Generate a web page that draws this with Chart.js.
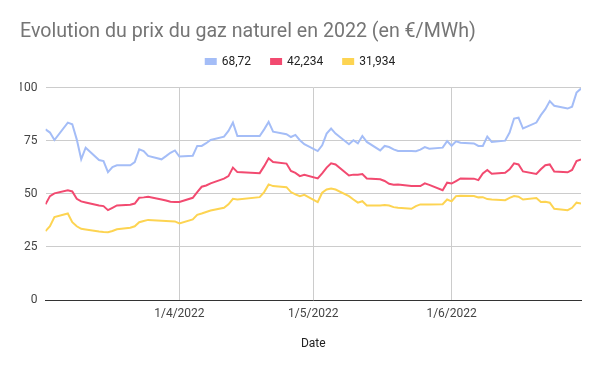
<!DOCTYPE html>
<html><head><meta charset="utf-8">
<script src="https://cdn.jsdelivr.net/npm/chart.js@4/dist/chart.umd.min.js"></script>
<style>html,body{margin:0;padding:0;background:#fff}</style>
</head><body>
<canvas id="c" width="600" height="371"></canvas>
<script>
const chartTitle = 'Evolution du prix du gaz naturel en 2022 (en €/MWh)';
const xAxisTitle = 'Date';
const seriesNames = ['68,72', '42,234', '31,934'];
const dates = [
 '2022-03-02','2022-03-03','2022-03-04','2022-03-07','2022-03-08','2022-03-09','2022-03-10','2022-03-11',
 '2022-03-14','2022-03-15','2022-03-16','2022-03-17','2022-03-18','2022-03-21','2022-03-22','2022-03-23',
 '2022-03-24','2022-03-25','2022-03-28','2022-03-29','2022-03-30','2022-03-31',
 '2022-04-01','2022-04-04','2022-04-05','2022-04-06','2022-04-07','2022-04-08','2022-04-11','2022-04-12',
 '2022-04-13','2022-04-14','2022-04-19','2022-04-20','2022-04-21','2022-04-22','2022-04-25','2022-04-26',
 '2022-04-27','2022-04-28','2022-04-29',
 '2022-05-02','2022-05-03','2022-05-04','2022-05-05','2022-05-06','2022-05-09','2022-05-10','2022-05-11',
 '2022-05-12','2022-05-13','2022-05-16','2022-05-17','2022-05-18','2022-05-19','2022-05-20','2022-05-23',
 '2022-05-24','2022-05-25','2022-05-26','2022-05-27','2022-05-30','2022-05-31',
 '2022-06-01','2022-06-02','2022-06-03','2022-06-06','2022-06-07','2022-06-08','2022-06-09','2022-06-10',
 '2022-06-13','2022-06-14','2022-06-15','2022-06-16','2022-06-17','2022-06-20','2022-06-21','2022-06-22',
 '2022-06-23','2022-06-24','2022-06-27','2022-06-28','2022-06-29','2022-06-30'
];
const seriesBlue = [
 80.3,78.8,75.3,83.5,82.7,75.6,66.2,71.7,65.9,65.4,60.2,62.6,63.4,63.4,64.9,70.9,70.1,67.8,66.2,67.7,69.3,70.4,
 67.5,67.9,72.5,72.5,73.8,75.3,76.9,79.6,83.5,77.2,77.2,80.3,83.8,79.2,78.0,76.7,77.7,75.2,73.3,
 70.1,72.8,78.3,80.7,78.3,73.3,75.2,73.7,77.2,74.4,70.4,72.5,72.0,70.9,70.1,70.1,70.0,70.8,72.0,71.2,71.7,74.8,
 72.6,74.7,74.0,73.7,72.5,72.5,76.9,74.4,75.0,78.8,85.4,85.8,80.7,83.5,87.0,89.8,93.6,91.4,90.1,91.0,97.6,99.5
];
const seriesRed = [
 45.0,48.9,50.2,51.6,51.1,47.6,46.4,45.9,44.5,44.2,42.3,43.4,44.5,44.8,45.4,48.1,48.3,48.6,47.3,46.8,46.2,46.1,
 46.1,48.1,50.8,53.3,53.9,54.9,57.1,58.3,62.3,60.2,59.7,63.0,66.7,64.9,64.2,60.7,59.8,58.3,58.9,
 57.2,59.6,62.3,64.3,63.8,58.6,59.0,59.0,59.3,57.2,56.8,56.0,54.7,54.2,54.4,53.6,53.6,53.6,54.9,54.2,51.7,55.2,
 54.8,56.0,57.2,57.1,56.4,59.6,61.2,59.4,59.9,61.5,64.3,63.8,60.5,59.3,61.5,63.4,63.8,60.5,60.1,61.2,65.4,66.2
];
const seriesYellow = [
 32.4,34.7,39.0,40.7,36.6,34.7,33.5,33.2,32.2,32.0,31.9,32.5,33.3,34.0,34.7,36.6,37.2,37.7,37.3,37.2,37.1,37.0,
 36.0,37.9,40.1,40.7,41.4,42.1,43.4,45.0,47.6,47.3,48.4,50.8,54.4,53.6,53.1,50.8,49.7,48.9,49.5,
 46.1,50.5,52.0,52.5,52.0,48.9,47.3,45.8,46.5,44.5,44.5,44.7,44.5,43.7,43.4,42.9,44.2,45.0,45.0,45.0,45.1,47.3,
 46.4,48.9,49.1,48.9,48.3,48.4,47.5,47.3,47.0,48.1,48.9,48.6,47.3,48.0,46.1,46.2,45.8,42.9,42.3,43.4,45.8,45.4
];
const xTickDates = ['2022-04-01', '2022-05-01', '2022-06-01'];
const xTickLabels = ['1/4/2022', '1/5/2022', '1/6/2022'];
const xRange = ['2022-03-02', '2022-06-30'];
const yTicks = [0, 25, 50, 75, 100];

function dayNum(s) {
  return (Date.UTC(+s.slice(0,4), +s.slice(5,7)-1, +s.slice(8,10)) - Date.UTC(2022,0,1)) / 86400000 + 1;
}
const toPoints = vals => vals.map((v, i) => ({x: dayNum(dates[i]), y: v}));
const xTickNums = xTickDates.map(dayNum);
const FONT = 'Roboto, "Liberation Sans", Arial, sans-serif';

new Chart(document.getElementById('c'), {
  type: 'line',
  data: {
    datasets: [
      {label: seriesNames[0], data: toPoints(seriesBlue), xAxisID: 'x', yAxisID: 'y', borderColor: '#a4bdf7', backgroundColor: '#a4bdf7'},
      {label: seriesNames[1], data: toPoints(seriesRed), xAxisID: 'x', yAxisID: 'y', borderColor: '#f24a70', backgroundColor: '#f24a70'},
      {label: seriesNames[2], data: toPoints(seriesYellow), xAxisID: 'x', yAxisID: 'y', borderColor: '#fdd452', backgroundColor: '#fdd452'}
    ]
  },
  options: {
    responsive: false,
    animation: false,
    devicePixelRatio: 1,
    elements: {line: {borderWidth: 2, tension: 0}, point: {radius: 0, hoverRadius: 0}},
    layout: {padding: {left: 20, right: 19, top: 0, bottom: 0}},
    plugins: {
      tooltip: {enabled: false},
      title: {
        display: true, text: chartTitle, align: 'start', color: '#757575',
        font: {family: FONT, size: 19.6, weight: 'normal'},
        padding: {top: 20, bottom: -8}
      },
      legend: {
        display: true, position: 'top', align: 'center',
        labels: {boxWidth: 10, boxHeight: 5, padding: 20, color: '#222',
                 font: {family: FONT, size: 12}}
      }
    },
    scales: {
      x: {
        type: 'linear', position: 'bottom',
        min: dayNum(xRange[0]), max: dayNum(xRange[1]),
        afterBuildTicks: s => { s.ticks = xTickNums.map(v => ({value: v})); },
        ticks: {
          callback: v => { const i = xTickNums.indexOf(v); return i >= 0 ? xTickLabels[i] : ''; },
          color: '#444', font: {family: FONT, size: 12}, padding: 7, maxRotation: 0, autoSkip: false
        },
        grid: {color: '#cccccc', lineWidth: 1, drawTicks: false},
        border: {display: true, color: '#333333', width: 1},
        title: {display: true, text: xAxisTitle, color: '#222', font: {family: FONT, size: 12}, padding: {top: 0, bottom: 20}},
        afterFit: s => { s.height = 71; }
      },
      y: {
        min: 0, max: 100,
        afterBuildTicks: s => { s.ticks = yTicks.map(v => ({value: v})); },
        ticks: {color: '#444', font: {family: FONT, size: 12}, padding: 8},
        grid: {color: ctx => (ctx.tick && ctx.tick.value === 0) ? 'rgba(0,0,0,0)' : '#cccccc', lineWidth: 1, drawTicks: false},
        border: {display: false},
        afterFit: s => { s.width = 25.5; }
      },
      spacer: {
        axis: 'x', type: 'linear', position: 'top', display: true,
        min: 0, max: 1,
        grid: {display: false}, ticks: {display: false}, border: {display: false},
        afterFit: s => { s.height = 10; }
      }
    }
  }
});
</script>
</body></html>
